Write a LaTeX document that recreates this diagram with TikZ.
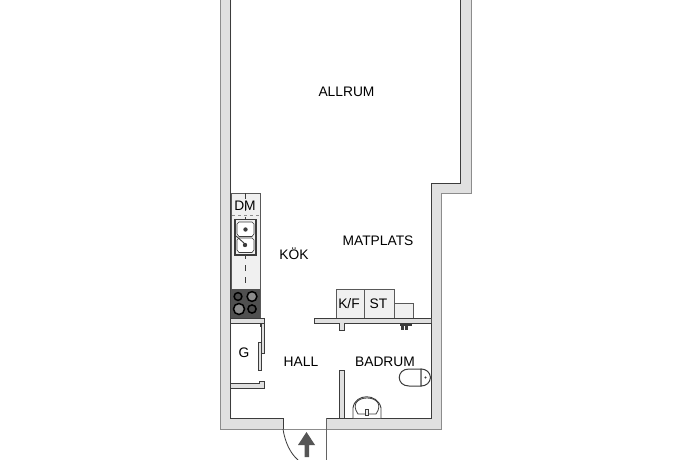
\documentclass[tikz,border=0pt]{standalone}
\usepackage{fontspec}
\setmainfont{Liberation Sans}
\definecolor{wallc}{HTML}{E0E0E0}
\definecolor{fixc}{HTML}{F0F0F0}
\definecolor{darkc}{HTML}{3C3C3C}
\definecolor{outc}{HTML}{8C8C8C}
\definecolor{arrowc}{HTML}{555555}
\begin{document}
\begin{tikzpicture}[x=1pt,y=-1pt,
  inner/.style={draw=darkc,line width=1pt},
  outer/.style={draw=outc,line width=1pt},
  fixture/.style={fill=fixc,draw=darkc!85!white,line width=0.8pt},
  label/.style={font=\fontsize{13.8}{15}\selectfont,text=black,inner sep=0pt},
  thin part/.style={fill=wallc,draw=darkc,line width=0.8pt},
  ring/.style={draw=black,line width=1.5pt}]
\useasboundingbox (0,0) rectangle (690,460);
\fill[white] (0,0) rectangle (690,460);
% outer wall band
\fill[wallc] (220,0) -- (220,429) -- (441,429) -- (441,193) -- (471,193) -- (471,0) -- (460,0) -- (460,183) -- (431,183) -- (431,418) -- (326,418) -- (326,429) -- (283,429) -- (283,418) -- (231,418) -- (231,0) -- cycle;
% outer lines
\draw[outer] (220,0) -- (220,429) -- (441,429) -- (441,193) -- (471,193) -- (471,0);
% inner lines
\draw[inner] (230.7,0) -- (230.7,418) -- (283,418);
\draw[inner] (460,0) -- (460,183) -- (431,183) -- (431,418) -- (326,418);
% door
\draw[draw=darkc,line width=0.8pt] (283,418) -- (283,429);
\draw[draw=darkc!80!white,line width=1pt] (326,418) -- (326,460);
\draw[draw=darkc,line width=0.8pt] (283,429) .. controls (285,442) and (290,453) .. (298,460);
\fill[arrowc] (306.5,432) -- (315,445) -- (309,445) -- (309,457) -- (304.5,457) -- (304.5,445) -- (298,445) -- cycle;
% kitchen counter
\draw[fixture] (231,193) rectangle (260,318);
\draw[draw=darkc,line width=0.8pt,dash pattern=on 6pt off 6pt] (245,193) -- (245,289);
\draw[draw=outc,line width=0.8pt,dash pattern=on 3pt off 3pt] (232,215) -- (260,215);
% sink
\draw[fill=fixc,draw=darkc,line width=1.6pt] (235,219.5) rectangle (256,255);
\draw[fill=white,draw=darkc,line width=0.6pt] (239,222) -- (252,222) -- (254,224) -- (254,234) -- (252,236.5) -- (239,236.5) -- (237,234) -- (237,224) -- cycle;
\draw[fill=white,draw=darkc,line width=0.6pt] (239,238) -- (252,238) -- (254,240) -- (254,250) -- (252,252.5) -- (239,252.5) -- (237,250) -- (237,240) -- cycle;
\fill[darkc] (245.5,229.5) circle (2.2);
\fill[darkc] (245,245) circle (2.2);
\draw[darkc,line width=0.9pt] (236,236) -- (244,243);
% hob
\fill[darkc!90!white] (231,289) rectangle (260,318);
\draw[fill=gray!60!black,ring] (238,296.5) circle (3.9);
\draw[fill=gray!90!white,ring] (252,296.5) circle (4.9);
\draw[fill=gray!90!white,ring] (239,309) circle (5.5);
\draw[fill=gray!60!black,ring] (252,309) circle (4.1);
% closet walls
\draw[thin part] (231,318) -- (264,318) -- (264,326) -- (260,326) -- (260,323) -- (231,323);
\draw[thin part] (231,388) -- (264,388) -- (264,381) -- (259,381) -- (259,383) -- (231,383);
\draw[thin part] (261,323) rectangle (264,353);
\draw[thin part] (258,342) rectangle (261,370);
% K/F ST
\draw[fixture] (336,289) rectangle (364,318);
\draw[fixture] (364,289) rectangle (394,318);
\draw[fixture] (394,303) rectangle (413,318);
% bath wall
\draw[thin part] (431,318) -- (314,318) -- (314,323) -- (339,323) -- (339,330) -- (344,330) -- (344,323) -- (431,323);
\draw[thin part] (339,418) -- (339,370) -- (344,370) -- (344,418);
% tap
\fill[darkc] (400,323) rectangle (412,326);
\fill[darkc] (401,326) rectangle (404,330);
\fill[darkc] (405,326) rectangle (408,329.5);
% toilet
\draw[fill=white,draw=darkc,line width=1pt] (421,369) -- (409,369) .. controls (396,369) and (396,386) .. (409,386) -- (421,386) -- cycle;
\draw[fill=white,draw=darkc,line width=1pt] (421,369) .. controls (426,369) and (430,372) .. (430.5,377.5) .. controls (430,383) and (426,386) .. (421,386) -- cycle;
\fill[darkc] (425.5,377.5) circle (1.2);
% basin
\draw[fill=white,draw=darkc,line width=0.9pt] (353,418) -- (353,408) .. controls (355,393) and (378,393) .. (381,408) -- (381,418);
\draw[fill=white,draw=darkc,line width=0.8pt] (358,414) .. controls (351,404) and (358,398) .. (367,398) .. controls (376,398) and (383,404) .. (376,414) -- cycle;
\draw[fill=fixc,draw=darkc,line width=0.6pt] (365,409) rectangle (368,415);
% labels
\node[label] (allrum) at (346.5,91.5) {ALLRUM};
\node[label] (matplats) at (378,240.5) {MATPLATS};
\node[label] (kok) at (294,254) {KÖK};
\node[label] (dm) at (245,206) {DM};
\node[label] (kf) at (349,304) {K/F};
\node[label] (st) at (378.5,304) {ST};
\node[label] (g) at (244,352.5) {G};
\node[label] (hall) at (301,362) {HALL};
\node[label] (badrum) at (385,362) {BADRUM};
\end{tikzpicture}
\end{document}
